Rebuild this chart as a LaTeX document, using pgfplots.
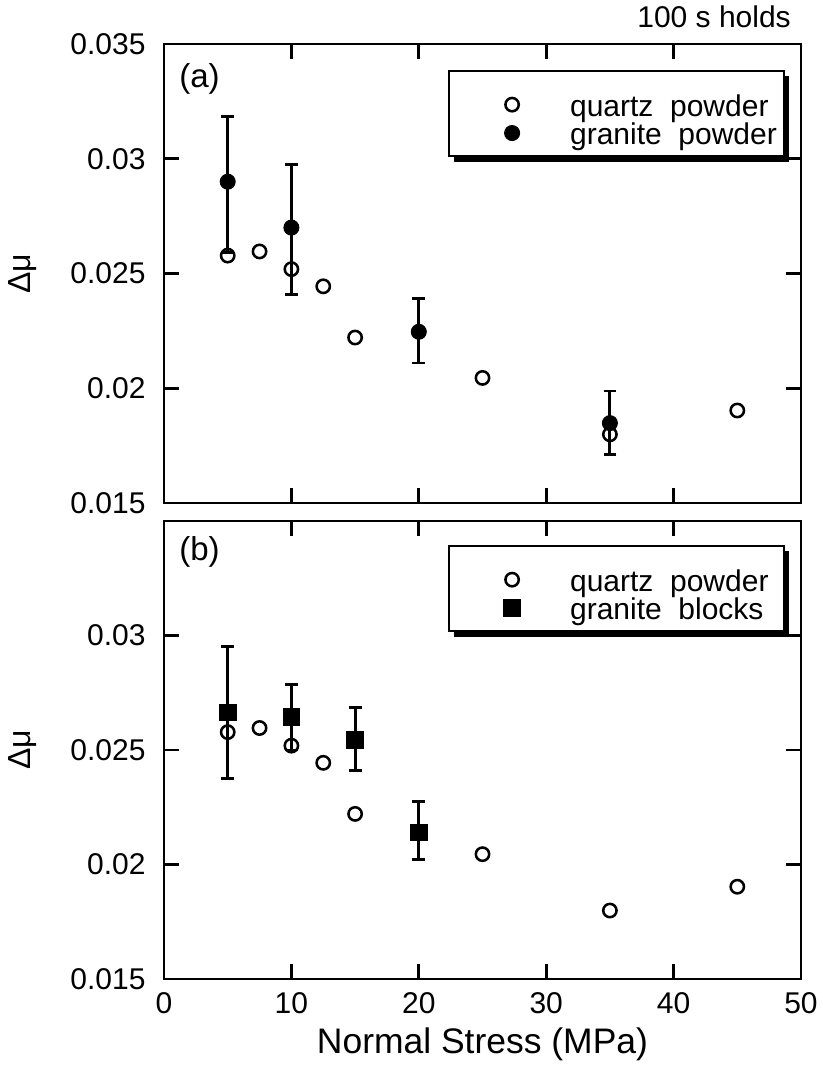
\documentclass[border=0pt]{standalone}
\usepackage{fontspec}
\setmainfont{Liberation Sans}
\usepackage{pgfplots}
\pgfplotsset{compat=1.18}
\usetikzlibrary{shadows}

% legend entry with controlled height/depth and fixed width
\newcommand\lent[3]{\makebox[77.5pt][l]{\rule[-#2]{0pt}{\dimexpr#1+#2\relax}#3}}

\pgfplotsset{
  panel/.style={
    scale only axis, width=238.875pt,
    xmin=0, xmax=50, ymin=0.015, ymax=0.035,
    axis line style={line width=1pt},
    every tick/.style={line width=1pt, black},
    major tick length=5.6pt,
    tick align=inside,
    xtick pos=both, ytick pos=both,
    xtick={0,10,20,30,40,50},
    scaled y ticks=false,
    /pgf/number format/assume math mode=true,
    yticklabel style={/pgf/number format/fixed, /pgf/number format/precision=3,
      font=\fontsize{11.25}{13}\selectfont, xshift=-3.4pt},
    xticklabel style={font=\fontsize{11.25}{13}\selectfont, yshift=-1.5pt},
    ylabel={Δμ},
    ylabel style={at={(axis description cs:-0.2214,0.5)}, anchor=center,
      font=\fontsize{12}{14}\selectfont},
    legend cell align=left,
    legend style={font=\fontsize{11.25}{13}\selectfont, draw=black, line width=0.8pt,
      fill=white, inner xsep=2.6pt, inner ysep=0.6pt, row sep=0pt, column sep=0pt,
      cells={anchor=base west}, nodes={inner sep=0pt, text depth=}, anchor=north west,
      drop shadow={shadow xshift=2pt, shadow yshift=-2pt, fill=black, opacity=1}},
    legend image code/.code={\path (0pt,0pt) (42pt,0pt);
      \draw[##1] plot coordinates {(20.65pt,4.3pt)};},
    error bars/error bar style={line width=1.1pt, black},
    error bars/error mark options={rotate=90, mark size=2.4pt, line width=1.1pt, black},
  },
  qz/.style={only marks, mark=o, mark size=2.5pt, mark options={line width=0.95pt, black}},
  gp/.style={only marks, mark=*, mark size=2.8pt, mark options={line width=0.4pt, black, fill=black},
    error bars/.cd, y dir=both, y explicit},
  gb/.style={only marks, mark=square*, mark size=3.1pt, mark options={line width=0.4pt, black, fill=black},
    error bars/.cd, y dir=both, y explicit},
}

\pgfplotstableread{
x y
5 0.02578
7.5 0.02596
10 0.02519
12.5 0.02444
15 0.02221
25 0.02045
35 0.01799
45 0.01903
}\quartz

\begin{document}
\begin{tikzpicture}
\path[use as bounding box] (0,0) rectangle (308.25pt,400.5pt);

\begin{axis}[panel, at={(61.5pt,211.875pt)}, anchor=south west, height=172.125pt,
  ytick={0.015,0.02,0.025,0.03,0.035}, xticklabels={},
  after end axis/.code={\node[anchor=base east, xshift=-0.3pt, yshift=6pt,
    font=\fontsize{11.25}{13}\selectfont] at (rel axis cs:1,1) {100 s holds};},
  legend style={at={(rel axis cs:0.4458,0.9434)}}]
\addplot[qz] table[x=x,y=y] {\quartz};
\addlegendentry{\lent{16.3pt}{2.5pt}{quartz\ \ powder}}
\addplot[gp] coordinates {
 (5,0.0290) += (0,0.00282) -= (0,0.0031)
 (10,0.0270) += (0,0.00275) -= (0,0.0029)
 (20,0.02246) += (0,0.00147) -= (0,0.00136)
 (35,0.01848) += (0,0.0014) -= (0,0.00135)
};
\addlegendentry{\lent{8.1pt}{3.8pt}{granite\ \ powder}}
\node[anchor=base west, xshift=2.2pt, yshift=-16.5pt, font=\fontsize{12.4}{14}\selectfont] at (rel axis cs:0,1) {(a)};
\end{axis}

\begin{axis}[panel, at={(61.5pt,33.375pt)}, anchor=south west, height=171.75pt,
  ytick={0.015,0.02,0.025,0.03},
  xlabel={Normal Stress (MPa)},
  xlabel style={at={(axis description cs:0.5,0)}, anchor=base, yshift=-27.75pt,
    font=\fontsize{13.3}{15}\selectfont},
  legend style={at={(rel axis cs:0.4458,0.9476)}}]
\addplot[qz] table[x=x,y=y] {\quartz};
\addlegendentry{\lent{16.3pt}{2.5pt}{quartz\ \ powder}}
\addplot[gb] coordinates {
 (5,0.02663) += (0,0.00288) -= (0,0.00287)
 (10,0.02643) += (0,0.00144) -= (0,0.00143)
 (15,0.02544) += (0,0.00142) -= (0,0.00134)
 (20,0.02139) += (0,0.00135) -= (0,0.00119)
};
\addlegendentry{\lent{8.1pt}{3.8pt}{granite\ \ blocks}}
\node[anchor=base west, xshift=2.2pt, yshift=-15pt, font=\fontsize{12.4}{14}\selectfont] at (rel axis cs:0,1) {(b)};
\end{axis}
\end{tikzpicture}
\end{document}
